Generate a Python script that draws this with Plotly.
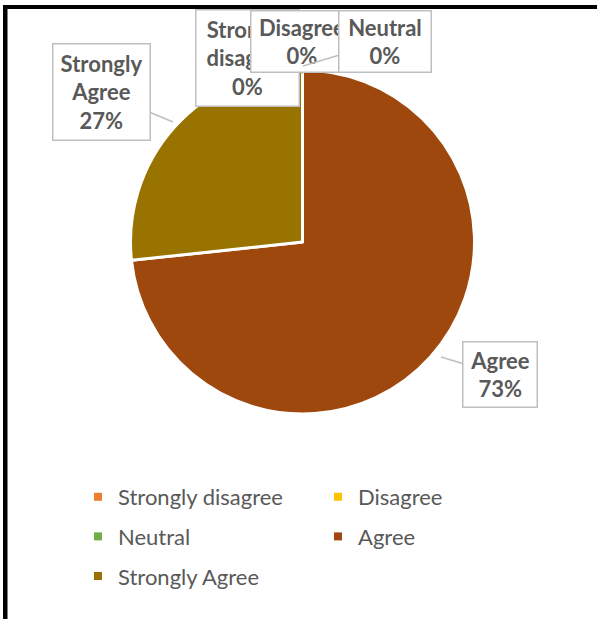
import plotly.graph_objects as go

# ---- data ----
categories = ["Strongly disagree", "Disagree", "Neutral", "Agree", "Strongly Agree"]
values = [0, 0, 0, 73.3, 26.7]
colors = ["#ED7D31", "#FFC000", "#70AD47", "#9E480E", "#997300"]
legend_columns = ["legend", "legend2", "legend", "legend2", "legend"]

W, H = 597, 619
FONT = "Lato"
GREY = "#595959"


def px(x):
    return x / W


def py(y):
    return 1 - y / H


fig = go.Figure()

# pie domain (pixels)
pie_left, pie_right, pie_top, pie_bottom = 129, 476, 70, 414
fig.add_trace(go.Pie(
    labels=categories,
    values=values,
    sort=False,
    direction="clockwise",
    rotation=0,
    marker=dict(colors=colors, line=dict(color="white", width=3)),
    textinfo="none",
    hoverinfo="label+percent",
    showlegend=False,
    domain=dict(x=[px(pie_left), px(pie_right)], y=[py(pie_bottom), py(pie_top)]),
))

# legend entries (dummy traces so that two legend columns can be laid out)
for i, (cat, col, lg) in enumerate(zip(categories, colors, legend_columns)):
    fig.add_trace(go.Scatter(
        x=[None], y=[None], mode="markers", name=cat,
        marker=dict(symbol="square", size=8, color=col),
        legend=lg, legendgroup=f"g{i}", showlegend=True,
    ))

# callout label placement (pixels): tip of pointer, box centre, box size
label_layout = {
    "Strongly disagree": dict(tip=(302, 72), center=(247.5, 58), size=(105, 98)),
    "Disagree": dict(tip=(302, 74), center=(302, 41.5), size=(104, 63)),
    "Neutral": dict(tip=(303, 66), center=(385, 41.5), size=(94, 63)),
    "Agree": dict(tip=(441, 357), center=(500, 374.5), size=(76, 67)),
    "Strongly Agree": dict(tip=(173, 122), center=(101.5, 92), size=(99, 98)),
}

total = sum(values)
annotations = []
for cat, v in zip(categories, values):
    pct = round(100 * v / total)
    name = cat.replace(" ", "<br>")
    lay = label_layout[cat]
    tx, ty = lay["tip"]
    cx, cy = lay["center"]
    bw, bh = lay["size"]
    annotations.append(dict(
        xref="paper", yref="paper", x=px(tx), y=py(ty),
        ax=cx - tx, ay=cy - ty, axref="pixel", ayref="pixel",
        text=f"<b>{name}<br>{pct}%</b>",
        showarrow=True, arrowhead=0, arrowwidth=1.5, arrowcolor="#bfbfbf",
        standoff=0, startstandoff=0,
        font=dict(family=FONT, size=22, color=GREY),
        bgcolor="white", bordercolor="#bfbfbf", borderwidth=1.5, borderpad=0,
        width=bw - 3, height=bh - 3, align="center", valign="middle",
    ))

# top edge of the chart frame, drawn in the top-most layer
annotations.append(dict(
    xref="paper", yref="paper", x=px(3), y=py(5), xanchor="left", yanchor="top",
    text="", showarrow=False, bgcolor="black", borderwidth=0, borderpad=0,
    width=W - 3, height=4,
))

# chart frame (top and left edges visible in the reference)
shapes = [
    dict(type="rect", xref="paper", yref="paper", x0=px(3), x1=px(W), y0=py(9), y1=py(5),
         fillcolor="black", line=dict(width=0), layer="above"),
    dict(type="rect", xref="paper", yref="paper", x0=px(3), x1=px(7.5), y0=py(H), y1=py(5),
         fillcolor="black", line=dict(width=0), layer="above"),
]

legend_style = dict(
    font=dict(family=FONT, size=22, color=GREY),
    bgcolor="rgba(0,0,0,0)", orientation="v",
    xanchor="left", yanchor="top", tracegroupgap=8,
    itemclick=False, itemdoubleclick=False,
)

fig.update_layout(
    width=W, height=H,
    margin=dict(l=0, r=0, t=0, b=0),
    paper_bgcolor="white", plot_bgcolor="rgba(0,0,0,0)",
    xaxis=dict(visible=False), yaxis=dict(visible=False),
    annotations=annotations,
    shapes=shapes,
    legend=dict(x=px(78), y=py(476), **legend_style),
    legend2=dict(x=px(318), y=py(476), **legend_style),
    showlegend=True,
)

fig.write_html(
    "out.html",
    config={"displayModeBar": False},
    post_script=(
        "document.documentElement.style.margin='0';"
        "document.body.style.margin='0';"
        "document.body.style.overflow='hidden';"
        "window.scrollTo(0,0);"
    ),
)
